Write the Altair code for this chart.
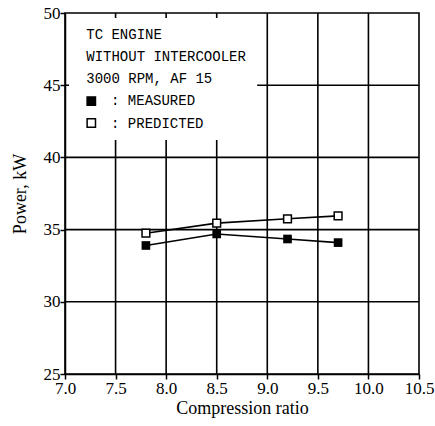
import altair as alt
import pandas as pd

# ---- data ----
compression_ratio = [7.8, 8.5, 9.2, 9.7]
power_measured = [33.9, 34.7, 34.35, 34.1]
power_predicted = [34.75, 35.45, 35.75, 35.95]

x_ticks = [7.0, 7.5, 8.0, 8.5, 9.0, 9.5, 10.0, 10.5]
y_ticks = [25, 30, 35, 40, 45, 50]
x_grid = [7.5, 8.0, 8.5, 9.0, 9.5, 10.0]
y_grid = [30, 35, 40, 45]

note_lines = ["TC ENGINE", "WITHOUT INTERCOOLER", "3000 RPM, AF 15"]
note_y = [48.2, 46.68, 45.12]
legend_labels = [": MEASURED", ": PREDICTED"]
legend_y = [43.6, 42.07]
legend_marker_y = [43.9, 42.38]
legend_fill = ["black", "white"]

# annotation anchor positions (data units)
note_x = 7.21
legend_marker_x = 7.26
legend_text_x = 7.455
box = {"x": 7.04, "x2": 8.9, "y": 41.2, "y2": 49.65}

X_DOMAIN = [7.0, 10.5]
Y_DOMAIN = [25, 50]

serif = "Liberation Serif"
mono = "Liberation Mono"

xscale = alt.Scale(domain=X_DOMAIN, nice=False, zero=False)
yscale = alt.Scale(domain=Y_DOMAIN, nice=False, zero=False)

axis_style = dict(
    grid=False, domain=True, domainColor="black", domainWidth=1.5,
    ticks=True, tickColor="black", tickWidth=1.5, tickSize=5,
    labelFont=serif, labelFontSize=17, labelColor="black",
    titleFont=serif, titleFontSize=18, titleFontWeight="normal", titleColor="black",
    zindex=1,
)

xaxis = alt.Axis(values=x_ticks, format=".1f", title="Compression ratio",
                 labelPadding=1, titlePadding=3, labelFlush=False, **axis_style)
yaxis = alt.Axis(values=y_ticks, format="d", title="Power, kW",
                 labelPadding=0, titlePadding=14, **axis_style)

df = pd.DataFrame({
    "cr": compression_ratio * 2,
    "power": power_measured + power_predicted,
    "series": ["Measured"] * len(compression_ratio) + ["Predicted"] * len(compression_ratio),
})

# gridlines
vgrid = alt.Chart(pd.DataFrame({"gx": x_grid})).mark_rule(color="black", strokeWidth=1.6).encode(
    x=alt.X("gx:Q", scale=xscale, axis=xaxis)
)
hgrid = alt.Chart(pd.DataFrame({"gy": y_grid})).mark_rule(color="black", strokeWidth=1.6).encode(
    y=alt.Y("gy:Q", scale=yscale, axis=yaxis)
)

# white box behind the note
box_layer = alt.Chart(pd.DataFrame([box])).mark_rect(fill="white").encode(
    x=alt.X("x:Q", axis=xaxis), x2="x2:Q", y=alt.Y("y:Q", axis=yaxis), y2="y2:Q"
)

lines = alt.Chart(df).mark_line(color="black", strokeWidth=1.6).encode(
    x=alt.X("cr:Q", axis=xaxis), y=alt.Y("power:Q", axis=yaxis), detail="series:N"
)

meas_pts = alt.Chart(df[df.series == "Measured"]).mark_point(
    shape="square", filled=True, color="black", size=75, opacity=1
).encode(x=alt.X("cr:Q", axis=xaxis), y=alt.Y("power:Q", axis=yaxis))

pred_pts = alt.Chart(df[df.series == "Predicted"]).mark_point(
    shape="square", filled=True, fill="white", stroke="black", strokeWidth=1.5, size=60, opacity=1
).encode(x=alt.X("cr:Q", axis=xaxis), y=alt.Y("power:Q", axis=yaxis))

notes = alt.Chart(pd.DataFrame({"t": note_lines, "x": [note_x] * 3, "y": note_y})).mark_text(
    font=mono, fontSize=14, align="left", baseline="alphabetic", color="black"
).encode(x=alt.X("x:Q", axis=xaxis), y=alt.Y("y:Q", axis=yaxis), text="t:N")

leg_text = alt.Chart(pd.DataFrame({"t": legend_labels, "x": [legend_text_x] * 2, "y": legend_y})).mark_text(
    font=mono, fontSize=14, align="left", baseline="alphabetic", color="black"
).encode(x=alt.X("x:Q", axis=xaxis), y=alt.Y("y:Q", axis=yaxis), text="t:N")

leg_marks = alt.Chart(pd.DataFrame({"x": [legend_marker_x] * 2, "y": legend_marker_y, "f": legend_fill})).mark_point(
    shape="square", filled=True, stroke="black", strokeWidth=1.5, size=70, opacity=1
).encode(x=alt.X("x:Q", axis=xaxis), y=alt.Y("y:Q", axis=yaxis), fill=alt.Fill("f:N", scale=None))

chart = alt.layer(
    vgrid, hgrid, box_layer, lines, meas_pts, pred_pts, notes, leg_text, leg_marks
).properties(
    width=354, height=361,
    autosize=alt.AutoSizeParams(type="none"),
    padding={"left": 65, "top": 13, "right": 16, "bottom": 52},
    background="white",
).configure_view(
    stroke="black", strokeWidth=1.6
).configure_axis(
    **axis_style
)

chart.save("out.html", embed_options={"renderer": "svg", "actions": False})
